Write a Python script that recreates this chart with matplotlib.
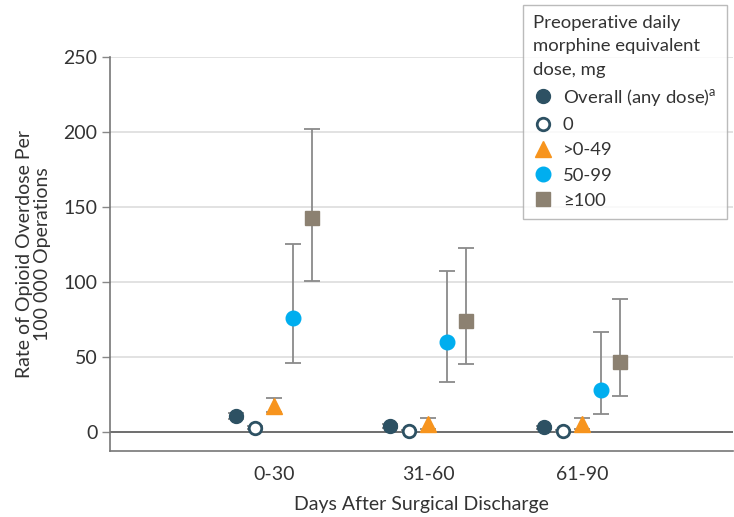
import matplotlib.pyplot as plt
from matplotlib.lines import Line2D
import numpy as np

plt.rcParams['font.family'] = ['Lato', 'DejaVu Sans']

periods = ['0-30', '31-60', '61-90']
groups = ['Overall (any dose)$^{\\mathregular{a}}$', '0', '>0-49', '50-99', '≥100']

# rate, lower CI, upper CI per group, one value per period
overall = [10.5, 4.0, 3.0]
overall_lo = [8.5, 2.8, 2.0]
overall_hi = [12.5, 5.2, 4.0]
zero = [2.7, 0.7, 0.5]
zero_lo = [1.8, 0.2, 0.1]
zero_hi = [3.8, 1.3, 1.0]
low = [17.0, 5.0, 5.0]
low_lo = [13.0, 2.0, 2.0]
low_hi = [22.5, 9.0, 9.0]
mid = [76.0, 60.0, 28.0]
mid_lo = [46.0, 33.5, 12.0]
mid_hi = [125.0, 107.0, 66.5]
high = [142.5, 74.0, 46.5]
high_lo = [100.5, 45.0, 24.0]
high_hi = [202.0, 122.5, 88.5]

series = [
    (overall, overall_lo, overall_hi, dict(marker='o', color='#2d5163', mfc='#2d5163', mec='#2d5163', ms=10)),
    (zero, zero_lo, zero_hi, dict(marker='o', color='#2d5163', mfc='white', mec='#2d5163', ms=9, mew=2)),
    (low, low_lo, low_hi, dict(marker='^', color='#f7941d', mfc='#f7941d', mec='#f7941d', ms=11)),
    (mid, mid_lo, mid_hi, dict(marker='o', color='#00aeef', mfc='#00aeef', mec='#00aeef', ms=10.5)),
    (high, high_lo, high_hi, dict(marker='s', color='#8c8171', mfc='#8c8171', mec='#8c8171', ms=9.5)),
]

fig = plt.figure(figsize=(7.34, 5.17), dpi=100)
ax = fig.add_axes([0.150, 0.128, 0.849, 0.762])

x = np.arange(1, len(periods) + 1)
offsets = [-2, -1, 0, 1, 2]
step = 0.123

ax.axhline(0, color='#555555', lw=1.2, zorder=1)
for yv in [50, 100, 150, 200, 250]:
    ax.axhline(yv, color='#dddddd', lw=1.2, zorder=0)

handles = []
for (vals, lo, hi, st), off, lab in zip(series, offsets, groups):
    vals = np.array(vals)
    err = [vals - np.array(lo), np.array(hi) - vals]
    xs = x + off * step
    ax.errorbar(xs, vals, yerr=err, fmt='none', ecolor='#8a8a8a', elinewidth=1.3,
                capsize=6, capthick=1.3, zorder=2)
    ax.plot(xs, vals, ls='none', zorder=3, **st)
    handles.append(Line2D([], [], ls='none', label=lab, **st))

ax.set_xlim(-0.065, 3.98)
ax.set_ylim(-12.7, 250)
ax.set_yticks([0, 50, 100, 150, 200, 250])
ax.set_xticks(x)
ax.set_xticklabels(periods)
ax.tick_params(axis='x', length=0, pad=11, labelsize=14, colors='#333333')
ax.tick_params(axis='y', length=6, width=1, color='#888888', labelsize=14,
               labelcolor='#333333', pad=3)
for side in ['top', 'right']:
    ax.spines[side].set_visible(False)
for side in ['left', 'bottom']:
    ax.spines[side].set_color('#777777')
    ax.spines[side].set_linewidth(1.2)

ax.set_ylabel('Rate of Opioid Overdose Per\n100 000 Operations', fontsize=14,
              color='#333333', labelpad=9, linespacing=1.05)
ax.set_xlabel('Days After Surgical Discharge', fontsize=14, color='#333333', labelpad=9)

leg = fig.legend(handles=handles, loc='upper right', bbox_to_anchor=(0.990, 0.990),
                 borderaxespad=0,
                 title='Preoperative daily\nmorphine equivalent\ndose, mg',
                 fontsize=13.3, title_fontsize=13.3, frameon=True, fancybox=False,
                 handlelength=1.0, handletextpad=0.6, labelspacing=0.5,
                 borderpad=0.55, alignment='left')
leg.get_frame().set_edgecolor('#aaaaaa')
leg.get_frame().set_linewidth(1.0)
for t in leg.get_texts():
    t.set_color('#333333')
leg.get_title().set_color('#333333')
leg.get_title().set_linespacing(1.55)

fig.savefig('out.png', dpi=100)
